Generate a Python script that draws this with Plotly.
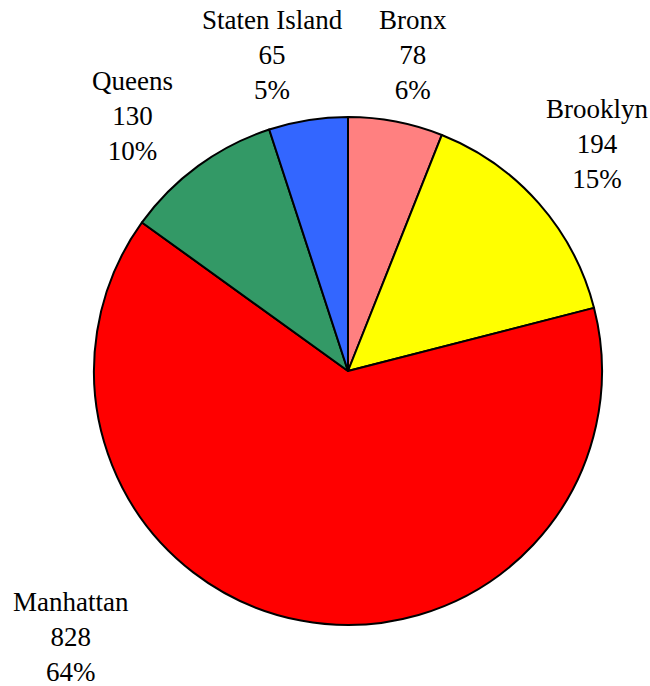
import plotly.graph_objects as go

labels = ["Bronx", "Brooklyn", "Manhattan", "Queens", "Staten Island"]
values = [78, 194, 828, 130, 65]
colors = ["#FF8080", "#FFFF00", "#FF0000", "#339966", "#3366FF"]

# label block centres (screen pixels)
label_pos = [(413, 55), (597, 144), (71, 637), (132, 116), (272, 55)]

W, H = 650, 686
L, T = 94, 117
R, B = W - 602, H - 625

total = sum(values)
fig = go.Figure(go.Pie(
    labels=labels,
    values=values,
    sort=False,
    direction="clockwise",
    rotation=0,
    marker=dict(colors=colors, line=dict(color="black", width=2)),
    textinfo="none",
    showlegend=False,
    hoverinfo="skip",
))

pw, ph = W - L - R, H - T - B
annotations = []
for lab, val, (px, py) in zip(labels, values, label_pos):
    pct = round(val / total * 100)
    annotations.append(dict(
        text=f"{lab}<br>{val}<br>{pct}%",
        x=(px - L) / pw, y=1 - (py - T) / ph,
        xref="paper", yref="paper",
        xanchor="center", yanchor="middle",
        showarrow=False, align="center",
        font=dict(family="Liberation Serif, Times New Roman, serif", size=27, color="black"),
    ))

fig.update_layout(
    width=W, height=H,
    margin=dict(l=L, r=R, t=T, b=B),
    paper_bgcolor="white",
    plot_bgcolor="white",
    annotations=annotations,
)

fig.write_html(
    "out.html",
    config={"displayModeBar": False, "staticPlot": True},
    post_script="document.body.style.margin='0';document.documentElement.style.overflow='hidden';document.body.style.overflow='hidden';",
)
